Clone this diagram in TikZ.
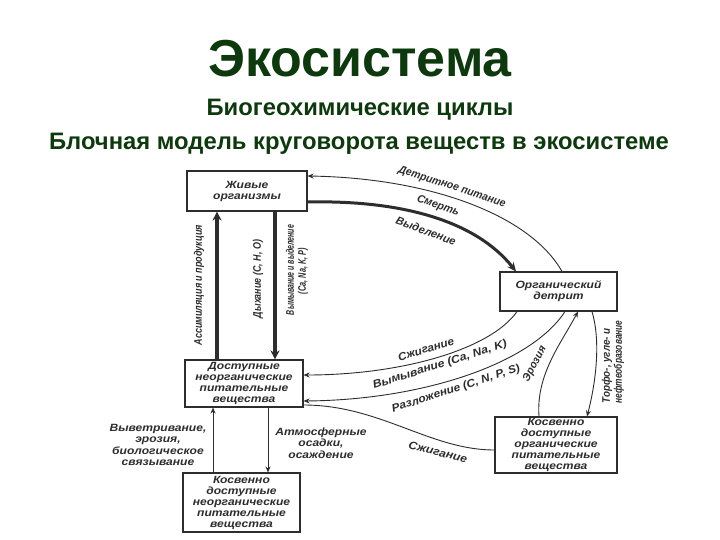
\documentclass[tikz,border=0pt]{standalone}
\usepackage{fontspec}
\setmainfont{Liberation Sans}
\newfontfamily\dfont[FakeStretch=1.15]{Liberation Sans}
\usetikzlibrary{arrows.meta}
\definecolor{ttl}{RGB}{14,56,14}
\definecolor{ink}{RGB}{45,45,45}
\newcommand{\fitw}[2]{\resizebox{#1}{\height}{#2}}
\begin{document}
\begin{tikzpicture}[x=1pt,y=-1pt,
  blk/.style={draw=ink,line width=1.1pt,inner sep=0pt,align=center,text=ink,
    font=\dfont\bfseries\itshape\fontsize{10.5}{11}\selectfont},
  lbl/.style={text=ink,inner sep=0pt,align=center,
    font=\dfont\bfseries\itshape\fontsize{10.5}{11.5}\selectfont},
  rlbl/.style={text=ink,inner sep=0pt,font=\bfseries\itshape\fontsize{11}{12}\selectfont},
  larr/.style={draw=ink,line width=0.9pt,-{Stealth[length=6pt,width=5pt]}},
  tarr/.style={draw=ink,line width=3.5pt,-{Stealth[length=9pt,width=9pt]}},
  ttlfont/.style={text=ttl,inner sep=0pt,anchor=base}
]
\useasboundingbox[fill=white] (0,0) rectangle (720,540);

% titles
\node[ttlfont,font=\bfseries\fontsize{52}{56}\selectfont] (t1) at (360,77) {Экосистема};
\node[ttlfont,font=\bfseries\fontsize{23.8}{26}\selectfont] (t2) at (360,116) {Биогеохимические циклы};
\node[ttlfont,font=\bfseries\fontsize{23.8}{26}\selectfont] (t3) at (359,150) {Блочная модель круговорота веществ в экосистеме};

% boxes
\node[blk,minimum width=120pt,minimum height=40pt] (ziv) at (247,191) {Живые\\организмы};
\node[blk,minimum width=117pt,minimum height=39pt] (det) at (558.5,291.5) {Органический\\детрит};
\node[blk,minimum width=118pt,minimum height=47pt] (dost) at (244,383.5) {Доступные\\неорганические\\питательные\\вещества};
\node[blk,minimum width=122pt,minimum height=56pt] (kor) at (556,445) {Косвенно\\доступные\\органические\\питательные\\вещества};
\node[blk,minimum width=117pt,minimum height=59pt] (kno) at (241.5,502.5) {Косвенно\\доступные\\неорганические\\питательные\\вещества};

% vertical arrows
\draw[tarr] (217,0 |- dost.north) -- (217,0 |- ziv.south);
\draw[tarr] (275,0 |- ziv.south) -- (275,0 |- dost.north);
\draw[larr] (213,0 |- kno.north) -- (213,0 |- dost.south);
\draw[larr] (268,0 |- dost.south) -- (268,0 |- kno.north);

% curved arrows
\draw[larr] (562,0 |- det.north) .. controls (530,215) and (430,178) .. (ziv.east |- 0,176);
\draw[draw=ink,line width=3pt,-{Stealth[length=9pt,width=8pt]}] (ziv.east |- 0,202) .. controls (400,200) and (475,220) .. (516,0 |- det.north);
\draw[larr] (517,0 |- det.south) .. controls (490,350) and (400,375) .. (dost.east |- 0,375);
\draw[larr] (565,0 |- det.south) .. controls (530,365) and (420,400) .. (dost.east |- 0,401);
\draw[draw=ink,line width=0.9pt] (kor.west |- 0,450) .. controls (430,450) and (380,405) .. (dost.east |- 0,405);
\draw[larr] (539,0 |- kor.north) .. controls (536,375) and (560,345) .. (578,0 |- det.south);
\draw[larr] (592,0 |- det.south) .. controls (602,345) and (594,390) .. (587,0 |- kor.north);

% labels
\node[rlbl,rotate=-18] (l1) at (452,187) {\fitw{112pt}{Детритное питание}};
\node[rlbl,rotate=-20] (l2) at (438,206) {\fitw{44pt}{Смерть}};
\node[rlbl,rotate=-20] (l3) at (426,231) {\fitw{63pt}{Выделение}};
\node[rlbl,rotate=17] (l4) at (426,349) {\fitw{58pt}{Сжигание}};
\node[rlbl,rotate=17.5] (l5) at (440,365) {\fitw{140pt}{Вымывание (Ca, Na, K)}};
\node[rlbl,rotate=18] (l6) at (456,389) {\fitw{134pt}{Разложение (C, N, P, S)}};
\node[rlbl,rotate=62] (l7) at (535,364) {\fitw{38pt}{Эрозия}};
\node[rlbl,rotate=90] (l8) at (607,366) {\fitw{75pt}{Торфо-, угле- и}};
\node[rlbl,rotate=90] (l9) at (619,362) {\fitw{83pt}{нефтеобразование}};
\node[rlbl,rotate=-14] (l10) at (438,452) {\fitw{60pt}{Сжигание}};
\node[rlbl,rotate=90] (l11) at (199,285) {\fitw{120pt}{Ассимиляция и продукция}};
\node[rlbl,rotate=90] (l12) at (258,279) {\fitw{78pt}{Дыхание (C, H, O)}};
\node[rlbl,rotate=90] (l13) at (290,270) {\fitw{90pt}{Вымывание и выделение}};
\node[rlbl,rotate=90] (l14) at (303,271) {\fitw{46pt}{(Ca, Na, K, P)}};
\node[lbl] (l15) at (158,445) {Выветривание,\\эрозия,\\биологическое\\связывание};
\node[lbl] (l16) at (321,443) {Атмосферные\\осадки,\\осаждение};
\end{tikzpicture}
\end{document}
